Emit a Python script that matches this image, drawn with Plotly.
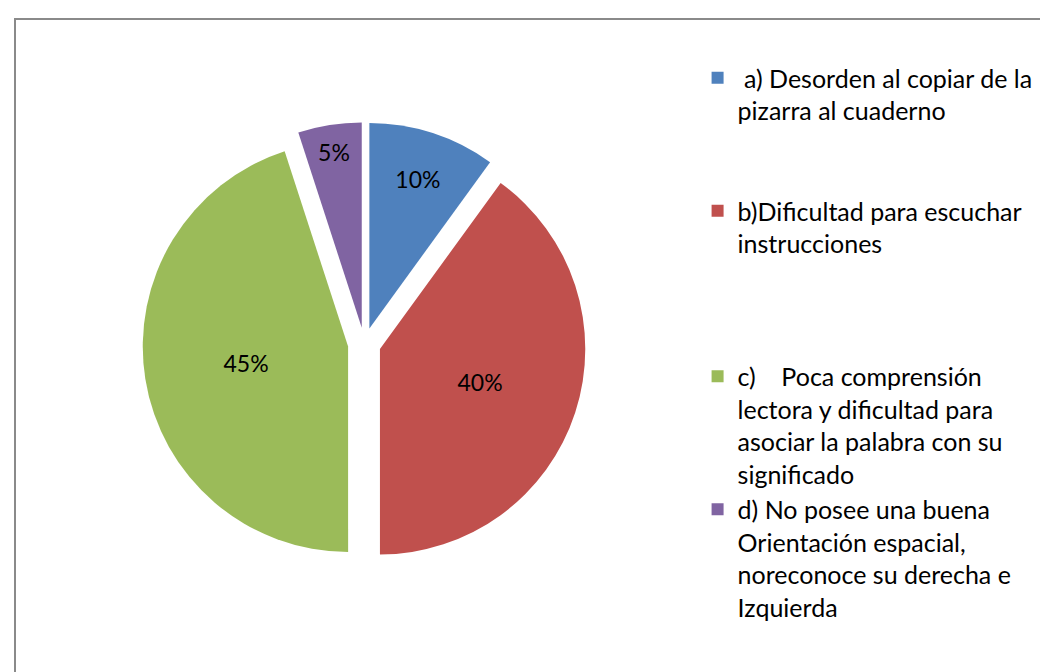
import plotly.graph_objects as go

NB = "\u00a0"
categories = [
    NB + "a) Desorden al copiar de la<br>pizarra al cuaderno",
    "b)Dificultad para escuchar<br>instrucciones",
    "c)" + NB * 4 + "Poca comprensión<br>lectora y dificultad para<br>asociar la palabra con su<br>significado",
    "d) No posee una buena<br>Orientación espacial,<br>noreconoce su derecha e<br>Izquierda",
]
values = [10, 40, 45, 5]
colors = ["#4F81BD", "#C0504D", "#9BBB59", "#8064A2"]
pad_lines = [2, 3, 0, 0]

legend_labels = [c + ("<br>" + NB) * p for c, p in zip(categories, pad_lines)]

fig = go.Figure()
fig.add_trace(go.Pie(
    labels=legend_labels,
    values=values,
    sort=False,
    direction="clockwise",
    rotation=0,
    pull=[0.08, 0.08, 0.08, 0.08],
    marker=dict(colors=colors, line=dict(color="white", width=0)),
    textinfo="percent",
    texttemplate="%{percent:.0%}",
    textposition="inside",
    insidetextorientation="horizontal",
    insidetextfont=dict(color="black", size=23, family="Lato"),
    domain=dict(x=[0.09, 0.59], y=[0.17, 0.83]),
    hoverinfo="label+percent",
))

fig.add_shape(type="rect", xref="paper", yref="paper",
              x0=7 / 1048, x1=1.02, y0=-0.02, y1=1 - 11 / 672,
              line=dict(color="#8a8a8a", width=2), fillcolor="rgba(0,0,0,0)", layer="below")

fig.update_layout(
    width=1048, height=672,
    margin=dict(l=0, r=0, t=0, b=0),
    paper_bgcolor="white", plot_bgcolor="white",
    font=dict(family="Lato", size=25, color="black"),
    showlegend=True,
    legend=dict(x=0.658, y=1 - 47 / 672, xanchor="left", yanchor="top",
                valign="top", font=dict(size=25, family="Lato", color="black"),
                itemwidth=30, bgcolor="rgba(0,0,0,0)"),
)

fig.write_html("out.html")
